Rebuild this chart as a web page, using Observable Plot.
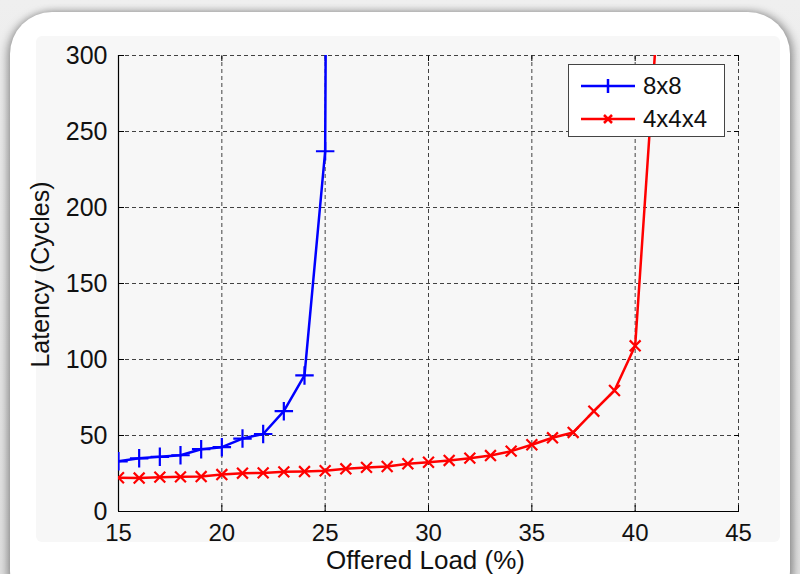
<!DOCTYPE html>
<html><head><meta charset="utf-8">
<script src="https://cdn.jsdelivr.net/npm/d3@7"></script>
<script src="https://cdn.jsdelivr.net/npm/@observablehq/plot@0.6"></script>
<style>
html,body{margin:0;padding:0;}
body{width:800px;height:574px;overflow:hidden;background:linear-gradient(#efefef,#e2e2e2);position:relative;font-family:"Liberation Sans",Arial,sans-serif;}
#panel{position:absolute;left:10px;top:12px;width:780px;height:600px;border-radius:42px;background:#fff;box-shadow:-3px 2px 10px rgba(0,0,0,0.35), 4px 0 8px rgba(0,0,0,0.3);}
#inner{position:absolute;left:36px;top:36px;width:744px;height:506px;background:#f7f7f7;border-radius:6px;}
#chart{position:absolute;left:0;top:0;}
#legend{position:absolute;left:568px;top:64px;width:157px;height:73px;border:1.5px solid #444;background:#fff;box-sizing:border-box;font-size:24px;color:#111;}
#legend .row{position:absolute;left:10px;height:26px;display:flex;align-items:center;}
#legend svg{margin-right:6px;}
</style></head>
<body>
<div id="panel"></div>
<div id="inner"></div>
<div id="chart"></div>
<div id="legend">
  <div class="row" style="top:8px"><svg width="58" height="20"><line x1="2" y1="10" x2="56" y2="10" stroke="#0000ff" stroke-width="2.5"/><line x1="29" y1="3" x2="29" y2="17" stroke="#0000ff" stroke-width="2.5"/></svg><span>8x8</span></div>
  <div class="row" style="top:41px"><svg width="58" height="20"><line x1="2" y1="10" x2="56" y2="10" stroke="#ff0000" stroke-width="2.5"/><line x1="25" y1="6" x2="33" y2="14" stroke="#ff0000" stroke-width="2.5"/><line x1="25" y1="14" x2="33" y2="6" stroke="#ff0000" stroke-width="2.5"/></svg><span>4x4x4</span></div>
</div>
<script>
const seriesNames = ["8x8", "4x4x4"];
const load8x8 = [15,16,17,18,19,20,21,22,23,24,25,26];
const latency8x8 = [33,35,36,37,41,42.3,48,51,66,89.5,237,3000];
const load4x4x4 = [15,16,17,18,19,20,21,22,23,24,25,26,27,28,29,30,31,32,33,34,35,36,37,38,39,40,41];
const latency4x4x4 = [22.2,22,22.6,22.8,23,24.3,25.2,25.4,26.1,26.3,26.8,28.1,29,29.6,31.4,32.4,33.6,35.1,36.8,39.7,43.9,48.5,52,66,79.6,109,310];
const xTicks = [15,20,25,30,35,40,45];
const yTicks = [0,50,100,150,200,250,300];
const colors = ["#0000ff", "#ff0000"];

const d8 = load8x8.map((x,i)=>({x, y: latency8x8[i], s: seriesNames[0]}));
const d4 = load4x4x4.map((x,i)=>({x, y: latency4x4x4[i], s: seriesNames[1]}));

const chart = Plot.plot({
  width: 800, height: 574,
  marginLeft: 118, marginRight: 62, marginTop: 55, marginBottom: 63,
  style: {background: "transparent", fontFamily: "'Liberation Sans', Arial, sans-serif", fontSize: "25px", color: "#000"},
  x: {domain: [15,45], ticks: xTicks},
  y: {domain: [0,300], ticks: yTicks},
  marks: [
    Plot.gridX(xTicks.slice(1), {stroke: "#222", strokeOpacity: 0.85, strokeDasharray: "4,3", strokeWidth: 1}),
    Plot.gridY(yTicks.slice(1), {stroke: "#222", strokeOpacity: 0.85, strokeDasharray: "4,3", strokeWidth: 1}),
    Plot.axisX(xTicks, {anchor: "bottom", tickSize: -6, tickPadding: 18, label: null, fontSize: 24, stroke: "#000", fill: "#111"}),
    Plot.axisX(xTicks, {anchor: "top", tickSize: -5, tickFormat: () => "", label: null, stroke: "#000"}),
    Plot.axisY(yTicks, {anchor: "left", tickSize: -6, tickPadding: 17, label: null, fontSize: 25, stroke: "#000", fill: "#111"}),
    Plot.axisY(yTicks, {anchor: "right", tickSize: -5, tickFormat: () => "", label: null, stroke: "#000"}),
    Plot.ruleX([15], {stroke: "#000", strokeWidth: 1.2}),
    Plot.ruleY([0], {stroke: "#000", strokeWidth: 1.2}),
    Plot.line(d8, {x: "x", y: "y", stroke: colors[0], strokeWidth: 2.5, clip: true}),
    Plot.line(d4, {x: "x", y: "y", stroke: colors[1], strokeWidth: 2.5, clip: true}),
    Plot.dot(d8, {x: "x", y: "y", symbol: "plus", stroke: colors[0], strokeWidth: 2.2, r: 6, clip: true}),
    Plot.dot(d4, {x: "x", y: "y", symbol: "times", stroke: colors[1], strokeWidth: 2.2, r: 5, clip: true}),
    Plot.text(["Offered Load (%)"], {frameAnchor: "bottom", dx: -3, dy: 57, fontSize: 26, fill: "#111"}),
    Plot.text(["Latency (Cycles)"], {frameAnchor: "left", textAnchor: "middle", dx: -78, dy: -9, rotate: -90, fontSize: 25, fill: "#111"})
  ]
});
document.getElementById("chart").appendChild(chart);
</script>
</body></html>
